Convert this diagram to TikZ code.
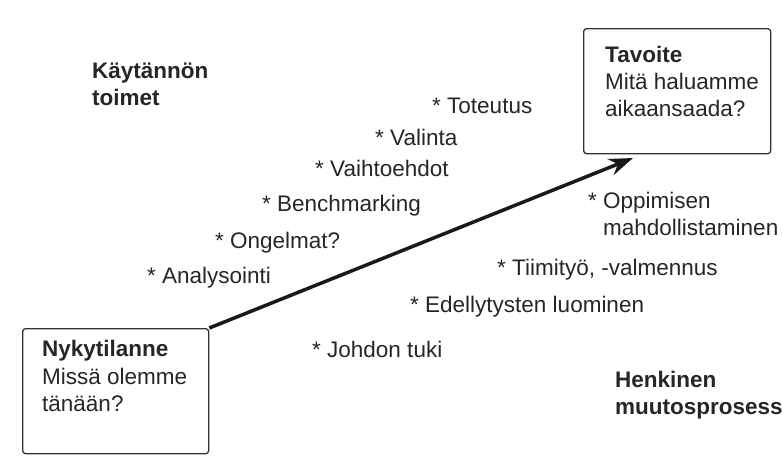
\documentclass[tikz,border=0pt]{standalone}
\usepackage{fontspec}
\setmainfont{Liberation Sans}
\usetikzlibrary{arrows.meta}
\begin{document}
\begin{tikzpicture}[x=1pt,y=-1pt,
  txt/.style={anchor=base west,inner sep=0pt,font=\fontsize{22.5}{27}\selectfont,text=black!85},
  head/.style={txt,font=\fontsize{22.5}{27}\selectfont\bfseries},
  box/.style={draw=black!80,line width=1.3pt,rounded corners=3pt,anchor=north west,inner sep=0pt}
]
\useasboundingbox (0,0) rectangle (783,475);
% boxes
\node[box,minimum width=186pt,minimum height=125pt] (now) at (22,328) {};
\node[box,minimum width=187pt,minimum height=125pt] (goal) at (583,28) {};
\node[txt] (nowhead) at (42,356) {\bfseries Nykytilanne};
\node[txt] (now1) at (42,384) {Missä olemme};
\node[txt] (now2) at (42,411) {tänään?};
\node[txt] (goalhead) at (605,62) {\bfseries Tavoite};
\node[txt] (goal1) at (605,89) {Mitä haluamme};
\node[txt] (goal2) at (605,116) {aikaansaada?};
% headings
\node[head] (kt1) at (92,78) {Käytännön};
\node[head] (kt2) at (92,105) {toimet};
\node[head] (hm1) at (615,387) {Henkinen};
\node[head] (hm2) at (615,414) {muutosprosess};
% items
\node[txt] (i1) at (432,113) {* Toteutus};
\node[txt] (i2) at (375,145) {* Valinta};
\node[txt] (i3) at (315,176) {* Vaihtoehdot};
\node[txt] (i4) at (262,211) {* Benchmarking};
\node[txt] (i5) at (215,248) {* Ongelmat?};
\node[txt] (i6) at (147,283) {* Analysointi};
\node[txt] (j1) at (588,208) {* Oppimisen};
\node[txt] (j1b) at (603,235) {mahdollistaminen};
\node[txt] (j2) at (497,275) {* Tiimityö, -valmennus};
\node[txt] (j3) at (410,312) {* Edellytysten luominen};
\node[txt] (j4) at (312,357) {* Johdon tuki};
% arrow
\coordinate (tip) at (633,158);
\draw[line width=3.5pt,-{Stealth[length=24pt,width=17pt]},black!90] (now.north east) -- (tip);
\end{tikzpicture}
\end{document}
